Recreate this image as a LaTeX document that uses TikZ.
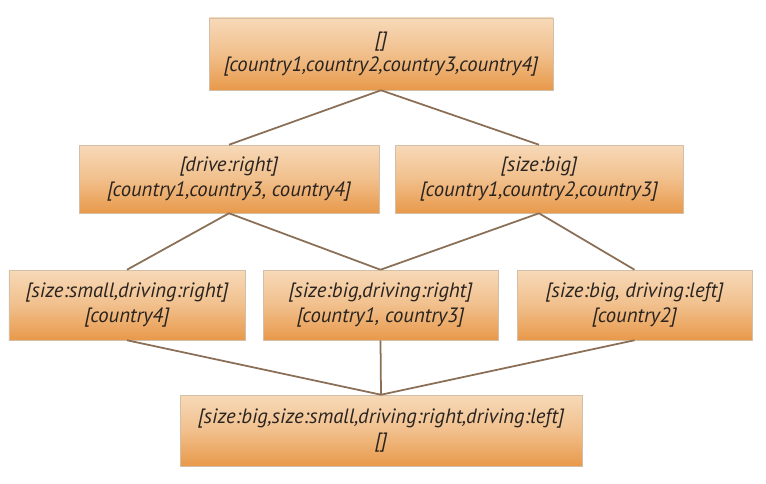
\documentclass[tikz,border=0pt]{standalone}
\usepackage{fontspec}
\setmainfont{PT Sans}
\definecolor{peach}{HTML}{F7D9B8}
\definecolor{dorange}{HTML}{E8994A}
\definecolor{linkbrown}{HTML}{8A6E55}
\definecolor{inkgray}{HTML}{2A2420}
\tikzset{
  boxnode/.style={draw=peach!70!gray, line width=0.3pt, top color=peach, bottom color=dorange,
    middle color=peach!60!dorange, align=center, inner sep=0pt,
    font=\itshape\fontsize{11.8}{14}\selectfont, text=inkgray},
  link/.style={draw=linkbrown, line width=1pt}
}
\begin{document}
\begin{tikzpicture}
\useasboundingbox (0,0) rectangle (15.32,9.66);

\node[boxnode, minimum width=6.88cm, minimum height=1.44cm] (top) at (7.62,8.58)
  {[]\\{}[country1,country2,country3,country4]};

\node[boxnode, minimum width=6.0cm, minimum height=1.36cm] (drive) at (4.58,6.08)
  {[drive:right]\\{}[country1,country3, country4]};
\node[boxnode, minimum width=5.76cm, minimum height=1.36cm] (big) at (10.78,6.08)
  {[size:big]\\{}[country1,country2,country3]};

\node[boxnode, minimum width=4.72cm, minimum height=1.4cm] (smallright) at (2.54,3.56)
  {[size:small,driving:right]\\{}[country4]};
\node[boxnode, minimum width=4.7cm, minimum height=1.4cm] (bigright) at (7.61,3.56)
  {[size:big,driving:right]\\{}[country1, country3]};
\node[boxnode, minimum width=4.7cm, minimum height=1.4cm] (bigleft) at (12.69,3.56)
  {[size:big, driving:left]\\{}[country2]};

\node[boxnode, minimum width=8.04cm, minimum height=1.42cm] (bottom) at (7.62,1.05)
  {[size:big,size:small,driving:right,driving:left]\\{}[]};

%\draw[dashed] (top) -- (bottom);

\draw[link] (top.south) -- (drive.north);
\draw[link] (top.south) -- (big.north);
\draw[link] (drive.south) -- (smallright.north);
\draw[link] (drive.south) -- (bigright.north);
\draw[link] (big.south) -- (bigright.north);
\draw[link] (big.south) -- (bigleft.north);
\draw[link] (smallright.south) -- (bottom.north);
\draw[link] (bigright.south) -- (bottom.north);
\draw[link] (bigleft.south) -- (bottom.north);
\end{tikzpicture}
\end{document}
